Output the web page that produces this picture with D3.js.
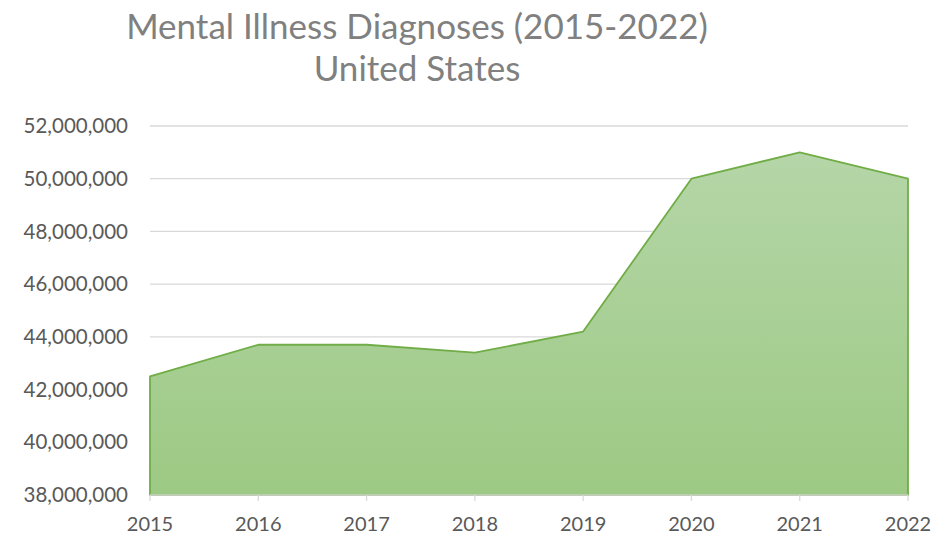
<!DOCTYPE html>
<html>
<head>
<meta charset="utf-8">
<script src="https://cdn.jsdelivr.net/npm/d3@7"></script>
<style>
  body { margin: 0; background: #fff; }
  text { font-family: Lato, "Open Sans", sans-serif; fill: #595959; }
</style>
</head>
<body>
<svg id="chart" width="936" height="539"></svg>
<script>
// data
var years = ["2015", "2016", "2017", "2018", "2019", "2020", "2021", "2022"];
var diagnoses = [42500000, 43700000, 43700000, 43400000, 44200000, 50000000, 51000000, 50000000];
var yTicks = [38000000, 40000000, 42000000, 44000000, 46000000, 48000000, 50000000, 52000000];
var titleLines = ["Mental Illness Diagnoses (2015-2022)", "United States"];

var svg = d3.select("#chart"),
    margin = { top: 126, right: 28, bottom: 44, left: 150 },
    width = 936 - margin.left - margin.right,
    height = 539 - margin.top - margin.bottom;

var g = svg.append("g")
    .attr("transform", "translate(" + margin.left + "," + margin.top + ")");

var x = d3.scalePoint().domain(years).range([0, width]);
var y = d3.scaleLinear().domain([38000000, 52000000]).range([height, 0]);

// gradient for the area
var grad = svg.append("defs").append("linearGradient")
    .attr("id", "fillGrad")
    .attr("x1", 0).attr("y1", 0).attr("x2", 0).attr("y2", 1);
grad.append("stop").attr("offset", "0%").attr("stop-color", "#b5d6a8");
grad.append("stop").attr("offset", "100%").attr("stop-color", "#9cc983");

// gridlines
g.selectAll(".grid")
    .data(yTicks.slice(1))
    .enter()
    .append("line")
    .attr("class", "grid")
    .attr("x1", 0)
    .attr("x2", width)
    .attr("y1", function (d) { return y(d); })
    .attr("y2", function (d) { return y(d); })
    .style("stroke", "#d9d9d9")
    .style("stroke-width", 1.3);

var data = years.map(function (yr, i) { return { year: yr, value: diagnoses[i] }; });

var area = d3.area()
    .x(function (d) { return x(d.year); })
    .y0(height)
    .y1(function (d) { return y(d.value); });

g.append("path")
    .datum(data)
    .attr("d", area)
    .style("fill", "url(#fillGrad)")
    .style("stroke", "#70ad47")
    .style("stroke-width", 1.8)
    .style("stroke-linejoin", "round");

// x axis baseline and ticks
g.append("line")
    .attr("x1", 0).attr("x2", width)
    .attr("y1", height).attr("y2", height)
    .style("stroke", "#d9d9d9")
    .style("stroke-width", 1.3);

g.selectAll(".xtick")
    .data(years)
    .enter()
    .append("line")
    .attr("x1", function (d) { return x(d); })
    .attr("x2", function (d) { return x(d); })
    .attr("y1", height)
    .attr("y2", height + 6)
    .style("stroke", "#d9d9d9")
    .style("stroke-width", 1.3);

g.selectAll(".xlabel")
    .data(years)
    .enter()
    .append("text")
    .attr("x", function (d) { return x(d); })
    .attr("y", height + 36)
    .attr("text-anchor", "middle")
    .style("font-size", "20px")
    .text(function (d) { return d; });

// y labels
var fmt = d3.format(",");
g.selectAll(".ylabel")
    .data(yTicks)
    .enter()
    .append("text")
    .attr("x", -22)
    .attr("y", function (d) { return y(d); })
    .attr("dy", "0.35em")
    .attr("text-anchor", "end")
    .style("font-size", "20.5px")
    .text(function (d) { return fmt(d); });

// title
svg.selectAll(".title")
    .data(titleLines)
    .enter()
    .append("text")
    .attr("x", 417)
    .attr("y", function (d, i) { return 39 + i * 42; })
    .attr("text-anchor", "middle")
    .style("font-size", "35px")
    .style("fill", "#808080")
    .text(function (d) { return d; });
</script>
</body>
</html>
